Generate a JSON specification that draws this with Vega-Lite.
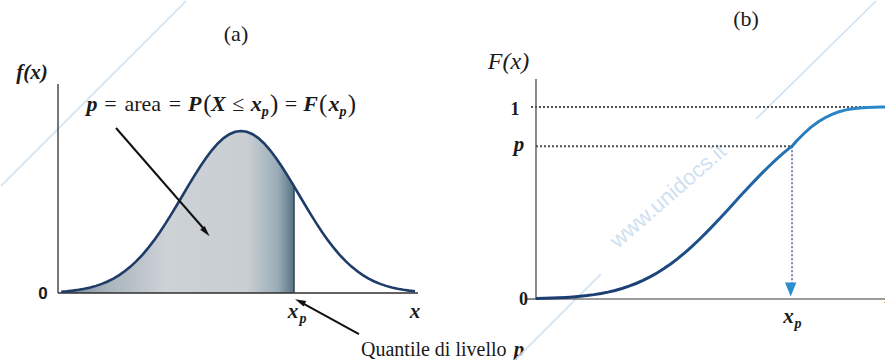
{
  "$schema": "https://vega.github.io/schema/vega-lite/v6.json",
  "background": "white",
  "padding": 0,
  "spacing": 0,
  "bounds": "flush",
  "config": {"view": {"stroke": null}, "text": {"font": "Liberation Serif", "baseline": "alphabetic", "align": "center"}},
  "datasets": {
    "pdf": [
      {"z": -3.1, "y": 0.00327}, {"z": -3.0, "y": 0.00443}, {"z": -2.9, "y": 0.00595}, {"z": -2.8, "y": 0.00792},
      {"z": -2.7, "y": 0.01042}, {"z": -2.6, "y": 0.01358}, {"z": -2.5, "y": 0.01753}, {"z": -2.4, "y": 0.02239},
      {"z": -2.3, "y": 0.02833}, {"z": -2.2, "y": 0.03547}, {"z": -2.1, "y": 0.04398}, {"z": -2.0, "y": 0.05399},
      {"z": -1.9, "y": 0.06562}, {"z": -1.8, "y": 0.07895}, {"z": -1.7, "y": 0.09405}, {"z": -1.6, "y": 0.11092},
      {"z": -1.5, "y": 0.12952}, {"z": -1.4, "y": 0.14973}, {"z": -1.3, "y": 0.17137}, {"z": -1.2, "y": 0.19419},
      {"z": -1.1, "y": 0.21785}, {"z": -1.0, "y": 0.24197}, {"z": -0.9, "y": 0.26609}, {"z": -0.8, "y": 0.28969},
      {"z": -0.7, "y": 0.31225}, {"z": -0.6, "y": 0.33322}, {"z": -0.5, "y": 0.35207}, {"z": -0.4, "y": 0.36827},
      {"z": -0.3, "y": 0.38139}, {"z": -0.2, "y": 0.39104}, {"z": -0.1, "y": 0.39695}, {"z": 0.0, "y": 0.39894},
      {"z": 0.1, "y": 0.39695}, {"z": 0.2, "y": 0.39104}, {"z": 0.3, "y": 0.38139}, {"z": 0.4, "y": 0.36827},
      {"z": 0.5, "y": 0.35207}, {"z": 0.6, "y": 0.33322}, {"z": 0.7, "y": 0.31225}, {"z": 0.8, "y": 0.28969},
      {"z": 0.9, "y": 0.26609}, {"z": 1.0, "y": 0.24197}, {"z": 1.1, "y": 0.21785}, {"z": 1.2, "y": 0.19419},
      {"z": 1.3, "y": 0.17137}, {"z": 1.4, "y": 0.14973}, {"z": 1.5, "y": 0.12952}, {"z": 1.6, "y": 0.11092},
      {"z": 1.7, "y": 0.09405}, {"z": 1.8, "y": 0.07895}, {"z": 1.9, "y": 0.06562}, {"z": 2.0, "y": 0.05399},
      {"z": 2.1, "y": 0.04398}, {"z": 2.2, "y": 0.03547}, {"z": 2.3, "y": 0.02833}, {"z": 2.4, "y": 0.02239},
      {"z": 2.5, "y": 0.01753}, {"z": 2.6, "y": 0.01358}, {"z": 2.7, "y": 0.01042}, {"z": 2.8, "y": 0.00792},
      {"z": 2.9, "y": 0.00595}, {"z": 3.0, "y": 0.00443}
    ],
    "pdfShade": [
      {"z": -3.1, "y": 0.00327}, {"z": -3.0, "y": 0.00443}, {"z": -2.9, "y": 0.00595}, {"z": -2.8, "y": 0.00792},
      {"z": -2.7, "y": 0.01042}, {"z": -2.6, "y": 0.01358}, {"z": -2.5, "y": 0.01753}, {"z": -2.4, "y": 0.02239},
      {"z": -2.3, "y": 0.02833}, {"z": -2.2, "y": 0.03547}, {"z": -2.1, "y": 0.04398}, {"z": -2.0, "y": 0.05399},
      {"z": -1.9, "y": 0.06562}, {"z": -1.8, "y": 0.07895}, {"z": -1.7, "y": 0.09405}, {"z": -1.6, "y": 0.11092},
      {"z": -1.5, "y": 0.12952}, {"z": -1.4, "y": 0.14973}, {"z": -1.3, "y": 0.17137}, {"z": -1.2, "y": 0.19419},
      {"z": -1.1, "y": 0.21785}, {"z": -1.0, "y": 0.24197}, {"z": -0.9, "y": 0.26609}, {"z": -0.8, "y": 0.28969},
      {"z": -0.7, "y": 0.31225}, {"z": -0.6, "y": 0.33322}, {"z": -0.5, "y": 0.35207}, {"z": -0.4, "y": 0.36827},
      {"z": -0.3, "y": 0.38139}, {"z": -0.2, "y": 0.39104}, {"z": -0.1, "y": 0.39695}, {"z": 0.0, "y": 0.39894},
      {"z": 0.1, "y": 0.39695}, {"z": 0.2, "y": 0.39104}, {"z": 0.3, "y": 0.38139}, {"z": 0.4, "y": 0.36827},
      {"z": 0.5, "y": 0.35207}, {"z": 0.6, "y": 0.33322}, {"z": 0.7, "y": 0.31225}, {"z": 0.8, "y": 0.28969},
      {"z": 0.9, "y": 0.26609}, {"z": 0.914, "y": 0.26275}
    ],
    "axesA": [
      {"z": -3.155, "y": 0, "z2": -3.155, "y2": 0.5147},
      {"z": -3.155, "y": 0, "z2": 3.052, "y2": 0}
    ],
    "edgeA": [{"z": 0.914, "y": 0, "z2": 0.914, "y2": 0.26275}],
    "arrowsA": [
      {"z": -2.155, "y": 0.4063, "z2": -0.638, "y2": 0.1576},
      {"z": 2.034, "y": -0.101, "z2": 1.052, "y2": -0.0246}
    ],
    "headA1": [{"z": -0.603, "y": 0.1502}],
    "headA2": [{"z": 1.017, "y": -0.0209}],
    "wmA": [{"z": -4.138, "y": 0.2635, "z2": -0.948, "y2": 0.719}],
    "labA_bi": [
      {"label": "f(x)", "z": -3.6034, "y": 0.527},
      {"label": "x", "z": 0.8966, "y": -0.0616},
      {"label": "x", "z": 3.0, "y": -0.0616},
      {"label": "p", "z": 4.793, "y": -0.1552}
    ],
    "labA_mathIt": [
      {"label": "p", "z": -2.569, "y": 0.4482},
      {"label": "P", "z": -0.798, "y": 0.4482},
      {"label": "X", "z": -0.3897, "y": 0.4482},
      {"label": "x", "z": 0.2638, "y": 0.4482},
      {"label": "F", "z": 1.2017, "y": 0.4482},
      {"label": "x", "z": 1.6034, "y": 0.4482}
    ],
    "labA_mathRm": [
      {"label": "=", "z": -2.25, "y": 0.4482},
      {"label": "area", "z": -1.693, "y": 0.4482},
      {"label": "=", "z": -1.138, "y": 0.4482},
      {"label": "≤", "z": -0.0448, "y": 0.4482},
      {"label": "=", "z": 0.8621, "y": 0.4482}
    ],
    "labA_paren": [
      {"label": "(", "z": -0.581, "y": 0.4457},
      {"label": ")", "z": 0.5724, "y": 0.4457},
      {"label": "(", "z": 1.4172, "y": 0.4457},
      {"label": ")", "z": 1.9103, "y": 0.4457}
    ],
    "labA_sub": [
      {"label": "p", "z": 0.419, "y": 0.4359},
      {"label": "p", "z": 1.7586, "y": 0.4359},
      {"label": "p", "z": 1.069, "y": -0.0739}
    ],
    "labA_title": [{"label": "(a)", "z": -0.0862, "y": 0.6206}],
    "labA_quant": [{"label": "Quantile di livello", "z": 2.069, "y": -0.1552}],
    "labA_zero": [{"label": "0", "z": -3.4138, "y": -0.01478}],
    "cdf": [
      {"z": -2.83, "y": 0.0023}, {"z": -2.7, "y": 0.00347}, {"z": -2.6, "y": 0.00466}, {"z": -2.5, "y": 0.00621},
      {"z": -2.4, "y": 0.0082}, {"z": -2.3, "y": 0.01072}, {"z": -2.2, "y": 0.0139}, {"z": -2.1, "y": 0.01786},
      {"z": -2.0, "y": 0.02275}, {"z": -1.9, "y": 0.02872}, {"z": -1.8, "y": 0.03593}, {"z": -1.7, "y": 0.04457},
      {"z": -1.6, "y": 0.0548}, {"z": -1.5, "y": 0.06681}, {"z": -1.4, "y": 0.08076}, {"z": -1.3, "y": 0.0968},
      {"z": -1.2, "y": 0.11507}, {"z": -1.1, "y": 0.13567}, {"z": -1.0, "y": 0.15866}, {"z": -0.9, "y": 0.18406},
      {"z": -0.8, "y": 0.21186}, {"z": -0.7, "y": 0.24196}, {"z": -0.6, "y": 0.27425}, {"z": -0.5, "y": 0.30854},
      {"z": -0.4, "y": 0.34458}, {"z": -0.3, "y": 0.38209}, {"z": -0.2, "y": 0.42074}, {"z": -0.1, "y": 0.46017},
      {"z": 0.0, "y": 0.5}, {"z": 0.1, "y": 0.53983}, {"z": 0.2, "y": 0.57926}, {"z": 0.3, "y": 0.61791},
      {"z": 0.4, "y": 0.65542}, {"z": 0.5, "y": 0.69146}, {"z": 0.6, "y": 0.72575}, {"z": 0.7, "y": 0.75804},
      {"z": 0.8, "y": 0.78814}, {"z": 0.829, "y": 0.796}, {"z": 0.9, "y": 0.826}, {"z": 1.0, "y": 0.862},
      {"z": 1.1, "y": 0.895}, {"z": 1.2, "y": 0.922}, {"z": 1.3, "y": 0.944}, {"z": 1.4, "y": 0.962},
      {"z": 1.5, "y": 0.975}, {"z": 1.6, "y": 0.985}, {"z": 1.7, "y": 0.991}, {"z": 1.8, "y": 0.995},
      {"z": 1.9, "y": 0.998}, {"z": 2.0, "y": 0.999}, {"z": 2.1, "y": 1.0}, {"z": 2.17, "y": 1.0}
    ],
    "axesB": [
      {"z": -2.8286, "y": 0, "z2": -2.8286, "y2": 1.1458},
      {"z": -2.8286, "y": 0, "z2": 2.1714, "y2": 0},
      {"z": -2.957, "y": 0, "z2": -2.8286, "y2": 0}
    ],
    "dotsB": [
      {"z": -2.9, "y": 1, "z2": 1.9, "y2": 1},
      {"z": -2.8286, "y": 0.796, "z2": 0.829, "y2": 0.796}
    ],
    "dropB": [{"z": 0.829, "y": 0.796, "z2": 0.829, "y2": 0.07}],
    "headB": [{"z": 0.81, "y": 0.0495}],
    "wmB": [
      {"z": -3.143, "y": -0.3229, "z2": -1.9, "y2": 0.1302},
      {"z": 0.3143, "y": 0.9375, "z2": 2.0286, "y2": 1.5521}
    ],
    "wmText": [{"label": "www.unidocs.it", "z": -0.943, "y": 0.5365}],
    "labB_it": [{"label": "F(x)", "z": -3.2214, "y": 1.1979}],
    "labB_title": [{"label": "(b)", "z": 0.1714, "y": 1.4219}],
    "labB_num": [
      {"label": "1", "z": -3.1286, "y": 0.9583},
      {"label": "0", "z": -3.0071, "y": -0.03125}
    ],
    "labB_bi": [
      {"label": "p", "z": -3.0714, "y": 0.7708},
      {"label": "x", "z": 0.7786, "y": -0.125},
      {"label": "x", "z": 2.2286, "y": -0.0208}
    ],
    "labB_sub": [{"label": "p", "z": 0.9143, "y": -0.151}]
  },
  "hconcat": [
    {
      "width": 440,
      "height": 360,
      "encoding": {
        "x": {"field": "z", "type": "quantitative", "scale": {"domain": [-4.1379, 3.4483], "nice": false, "zero": false}, "axis": null},
        "y": {"field": "y", "type": "quantitative", "scale": {"domain": [-0.16745, 0.71906], "nice": false, "zero": false}, "axis": null}
      },
      "layer": [
        {"data": {"name": "wmA"}, "mark": {"type": "rule", "stroke": "#cde1f3", "strokeWidth": 1.5},
         "encoding": {"x2": {"field": "z2"}, "y2": {"field": "y2"}}},
        {"data": {"name": "pdfShade"},
         "mark": {"type": "area", "fill": {"gradient": "linear", "x1": 0, "y1": 0, "x2": 1, "y2": 0,
           "stops": [
             {"offset": 0, "color": "#6f8696"},
             {"offset": 0.2, "color": "#a9b4bc"},
             {"offset": 0.45, "color": "#cdd2d6"},
             {"offset": 0.8, "color": "#c8ced2"},
             {"offset": 0.93, "color": "#9aacb7"},
             {"offset": 1, "color": "#587385"}
           ]}},
         "encoding": {"y2": {"datum": 0}}},
        {"data": {"name": "axesA"}, "mark": {"type": "rule", "stroke": "#2e2e2e", "strokeWidth": 1.3},
         "encoding": {"x2": {"field": "z2"}, "y2": {"field": "y2"}}},
        {"data": {"name": "edgeA"}, "mark": {"type": "rule", "stroke": "#2a4658", "strokeWidth": 1.5},
         "encoding": {"x2": {"field": "z2"}, "y2": {"field": "y2"}}},
        {"data": {"name": "pdf"}, "mark": {"type": "line", "stroke": "#1f3c68", "strokeWidth": 2.6}},
        {"data": {"name": "arrowsA"}, "mark": {"type": "rule", "stroke": "#111111", "strokeWidth": 2},
         "encoding": {"x2": {"field": "z2"}, "y2": {"field": "y2"}}},
        {"data": {"name": "headA1"}, "mark": {"type": "point", "shape": "M0,-1L0.55,1L-0.55,1Z", "filled": true, "color": "#111111", "opacity": 1, "size": 120, "angle": 139}},
        {"data": {"name": "headA2"}, "mark": {"type": "point", "shape": "M0,-1L0.55,1L-0.55,1Z", "filled": true, "color": "#111111", "opacity": 1, "size": 120, "angle": 295}},
        {"data": {"name": "labA_title"}, "mark": {"type": "text", "fontSize": 22, "color": "#1a1a1a"},
         "encoding": {"text": {"field": "label"}}},
        {"data": {"name": "labA_bi"}, "mark": {"type": "text", "fontSize": 21, "fontStyle": "italic", "fontWeight": "bold", "color": "#1a1a1a"},
         "encoding": {"text": {"field": "label"}}},
        {"data": {"name": "labA_mathIt"}, "mark": {"type": "text", "fontSize": 22, "fontStyle": "italic", "fontWeight": "bold", "color": "#1a1a1a"},
         "encoding": {"text": {"field": "label"}}},
        {"data": {"name": "labA_mathRm"}, "mark": {"type": "text", "fontSize": 22, "color": "#1a1a1a"},
         "encoding": {"text": {"field": "label"}}},
        {"data": {"name": "labA_paren"}, "mark": {"type": "text", "fontSize": 25, "color": "#1a1a1a"},
         "encoding": {"text": {"field": "label"}}},
        {"data": {"name": "labA_sub"}, "mark": {"type": "text", "fontSize": 14, "fontStyle": "italic", "fontWeight": "bold", "color": "#1a1a1a"},
         "encoding": {"text": {"field": "label"}}},
        {"data": {"name": "labA_quant"}, "mark": {"type": "text", "fontSize": 20, "align": "left", "color": "#1a1a1a"},
         "encoding": {"text": {"field": "label"}}},
        {"data": {"name": "labA_zero"}, "mark": {"type": "text", "font": "Liberation Sans", "fontWeight": "bold", "fontSize": 17, "color": "#1a1a1a"},
         "encoding": {"text": {"field": "label"}}}
      ]
    },
    {
      "width": 445,
      "height": 360,
      "encoding": {
        "x": {"field": "z", "type": "quantitative", "scale": {"domain": [-4.1857, 2.1714], "nice": false, "zero": false}, "axis": null},
        "y": {"field": "y", "type": "quantitative", "scale": {"domain": [-0.3229, 1.5521], "nice": false, "zero": false}, "axis": null}
      },
      "layer": [
        {"data": {"name": "wmB"}, "mark": {"type": "rule", "stroke": "#cde1f3", "strokeWidth": 1.5},
         "encoding": {"x2": {"field": "z2"}, "y2": {"field": "y2"}}},
        {"data": {"name": "wmText"}, "mark": {"type": "text", "font": "Liberation Sans", "fontSize": 22, "angle": 319, "baseline": "middle", "color": "#cfe1f1"},
         "encoding": {"text": {"field": "label"}}},
        {"data": {"name": "axesB"}, "mark": {"type": "rule", "stroke": "#3a3a3a", "strokeWidth": 1.2},
         "encoding": {"x2": {"field": "z2"}, "y2": {"field": "y2"}}},
        {"data": {"name": "dotsB"}, "mark": {"type": "rule", "stroke": "#505050", "strokeWidth": 2, "strokeDash": [2, 2]},
         "encoding": {"x2": {"field": "z2"}, "y2": {"field": "y2"}}},
        {"data": {"name": "dropB"}, "mark": {"type": "rule", "stroke": "#7d84a2", "strokeWidth": 2, "strokeDash": [2, 2]},
         "encoding": {"x2": {"field": "z2"}, "y2": {"field": "y2"}}},
        {"data": {"name": "headB"}, "mark": {"type": "point", "shape": "M-0.8,-1L0.8,-1L0,1Z", "filled": true, "color": "#2b8fcf", "opacity": 1, "size": 200}},
        {"data": {"name": "cdf"}, "mark": {"type": "line", "strokeWidth": 3,
          "stroke": {"gradient": "linear", "x1": 0, "y1": 1, "x2": 0, "y2": 0,
            "stops": [
              {"offset": 0, "color": "#1c3d70"},
              {"offset": 0.45, "color": "#1f5896"},
              {"offset": 1, "color": "#2a88c9"}
            ]}}},
        {"data": {"name": "labB_title"}, "mark": {"type": "text", "fontSize": 22, "color": "#1a1a1a"},
         "encoding": {"text": {"field": "label"}}},
        {"data": {"name": "labB_it"}, "mark": {"type": "text", "fontSize": 24, "fontStyle": "italic", "color": "#1a1a1a"},
         "encoding": {"text": {"field": "label"}}},
        {"data": {"name": "labB_num"}, "mark": {"type": "text", "fontSize": 18, "fontWeight": "bold", "color": "#1a1a1a"},
         "encoding": {"text": {"field": "label"}}},
        {"data": {"name": "labB_bi"}, "mark": {"type": "text", "fontSize": 21, "fontStyle": "italic", "fontWeight": "bold", "color": "#1a1a1a"},
         "encoding": {"text": {"field": "label"}}},
        {"data": {"name": "labB_sub"}, "mark": {"type": "text", "fontSize": 14, "fontStyle": "italic", "fontWeight": "bold", "color": "#1a1a1a"},
         "encoding": {"text": {"field": "label"}}}
      ]
    }
  ]
}
